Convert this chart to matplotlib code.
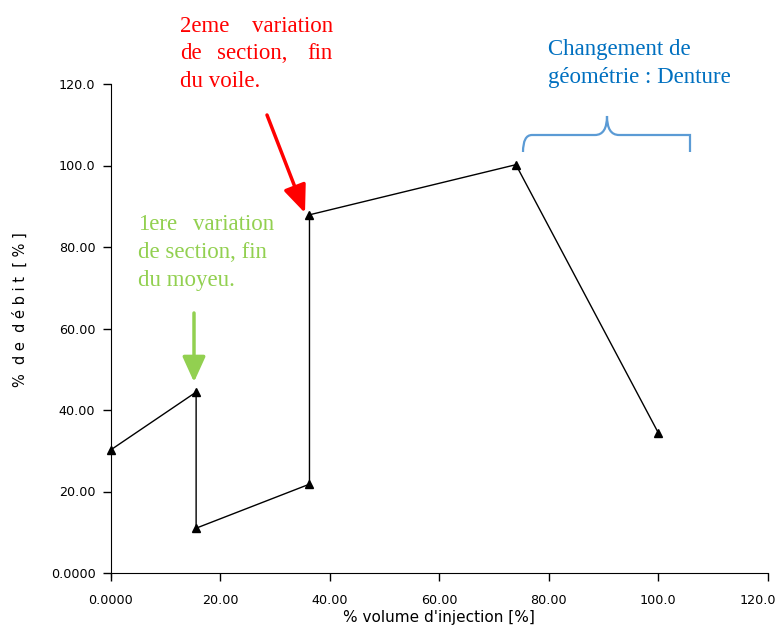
import matplotlib
matplotlib.use('Agg')
import matplotlib.pyplot as plt
from matplotlib.path import Path
from matplotlib.patches import PathPatch, FancyArrowPatch
from matplotlib.transforms import ScaledTranslation

# data
volume = [0.0, 15.6, 15.6, 36.3, 36.3, 74.0, 100.0]
debit = [30.2, 44.4, 11.0, 21.8, 87.9, 100.2, 34.4]

x_ticks = [0, 20, 40, 60, 80, 100, 120]
x_labels = ['0.0000', '20.00', '40.00', '60.00', '80.00', '100.0', '120.0']
y_ticks = [0, 20, 40, 60, 80, 100, 120]
y_labels = ['0.0000', '20.00', '40.00', '60.00', '80.00', '100.0', '120.0']

W, H = 777, 631
RED = '#ff0000'
GREEN = '#92d050'
BLUE = '#0070c0'


def fx(px):
    return px / W


def fy(py):
    return 1 - py / H


fig = plt.figure(figsize=(W / 100, H / 100), dpi=100)
ax = fig.add_axes([fx(110.7), fy(573), fx(767.8) - fx(110.7), fy(84) - fy(573)])

ax.plot(volume, debit, color='black', linewidth=1.0, marker='^', markersize=6,
        markerfacecolor='black', markeredgecolor='black', clip_on=False, zorder=3)

ax.set_xlim(0, 120)
ax.set_ylim(0, 120)
ax.set_xticks(x_ticks, x_labels)
ax.set_yticks(y_ticks, y_labels)
for s in ['top', 'right']:
    ax.spines[s].set_visible(False)
ax.spines['left'].set_bounds(-1, 120)
ax.tick_params(direction='out', length=6, width=1, labelsize=9.2, colors='black')
ax.tick_params(axis='x', pad=9)
ax.tick_params(axis='y', pad=5)

# last x label sits against the right edge of the picture
last = ax.get_xticklabels()[-1]
last.set_horizontalalignment('right')
last.set_transform(last.get_transform() + ScaledTranslation(0.085, 0, fig.dpi_scale_trans))

ax.set_xlabel("% volume d'injection [%]", fontsize=11, labelpad=2)
fig.text(fx(20), fy(310), '%  d e  d é b i t  [ % ]', rotation=90, fontsize=10.5,
         ha='center', va='center')

serif = 'Liberation Serif'
fs = 16.5

# red annotation (justified lines)
fig.text(fx(180), fy(32), '2eme', color=RED, fontsize=fs, family=serif, va='baseline')
fig.text(fx(333), fy(32), 'variation', color=RED, fontsize=fs, family=serif, va='baseline', ha='right')
fig.text(fx(180), fy(59), 'de', color=RED, fontsize=fs, family=serif, va='baseline')
fig.text(fx(252), fy(59), 'section,', color=RED, fontsize=fs, family=serif, va='baseline', ha='center')
fig.text(fx(333), fy(59), 'fin', color=RED, fontsize=fs, family=serif, va='baseline', ha='right')
fig.text(fx(180), fy(87), 'du voile.', color=RED, fontsize=fs, family=serif, va='baseline')

# green annotation
fig.text(fx(138), fy(230), '1ere', color=GREEN, fontsize=fs, family=serif, va='baseline')
fig.text(fx(274), fy(230), 'variation', color=GREEN, fontsize=fs, family=serif, va='baseline', ha='right')
fig.text(fx(138), fy(258), 'de section, fin', color=GREEN, fontsize=fs, family=serif, va='baseline')
fig.text(fx(138), fy(286), 'du moyeu.', color=GREEN, fontsize=fs, family=serif, va='baseline')

# blue annotation
fig.text(fx(548), fy(55), 'Changement de', color=BLUE, fontsize=fs, family=serif, va='baseline')
fig.text(fx(548), fy(83), 'géométrie : Denture', color=BLUE, fontsize=fs, family=serif, va='baseline')

# arrows
red_arrow = FancyArrowPatch((fx(267), fy(115)), (fx(305), fy(213)), transform=fig.transFigure,
                            arrowstyle='-|>,head_length=1.2,head_width=0.5', mutation_scale=14,
                            color=RED, linewidth=2.5, shrinkA=0, shrinkB=0)
green_arrow = FancyArrowPatch((fx(194), fy(313)), (fx(194), fy(382)), transform=fig.transFigure,
                              arrowstyle='-|>,head_length=1.1,head_width=0.5', mutation_scale=14,
                              color=GREEN, linewidth=2.5, shrinkA=0, shrinkB=0)
fig.patches.extend([red_arrow, green_arrow])

# curly brace
verts = [(523, 152), (523, 135), (532, 135), (542, 135),
         (595, 135), (607, 135), (607, 116),
         (607, 135), (619, 135), (672, 135),
         (682, 135), (690, 135), (690, 152)]
codes = [Path.MOVETO, Path.CURVE3, Path.CURVE3, Path.LINETO,
         Path.LINETO, Path.CURVE3, Path.CURVE3,
         Path.CURVE3, Path.CURVE3, Path.LINETO,
         Path.CURVE3, Path.CURVE3, Path.LINETO]
verts = [(fx(a), fy(b)) for a, b in verts]
brace = PathPatch(Path(verts, codes), transform=fig.transFigure, facecolor='none',
                  edgecolor='#5b9bd5', linewidth=1.6)
fig.patches.append(brace)

fig.savefig('out.png', dpi=100)
